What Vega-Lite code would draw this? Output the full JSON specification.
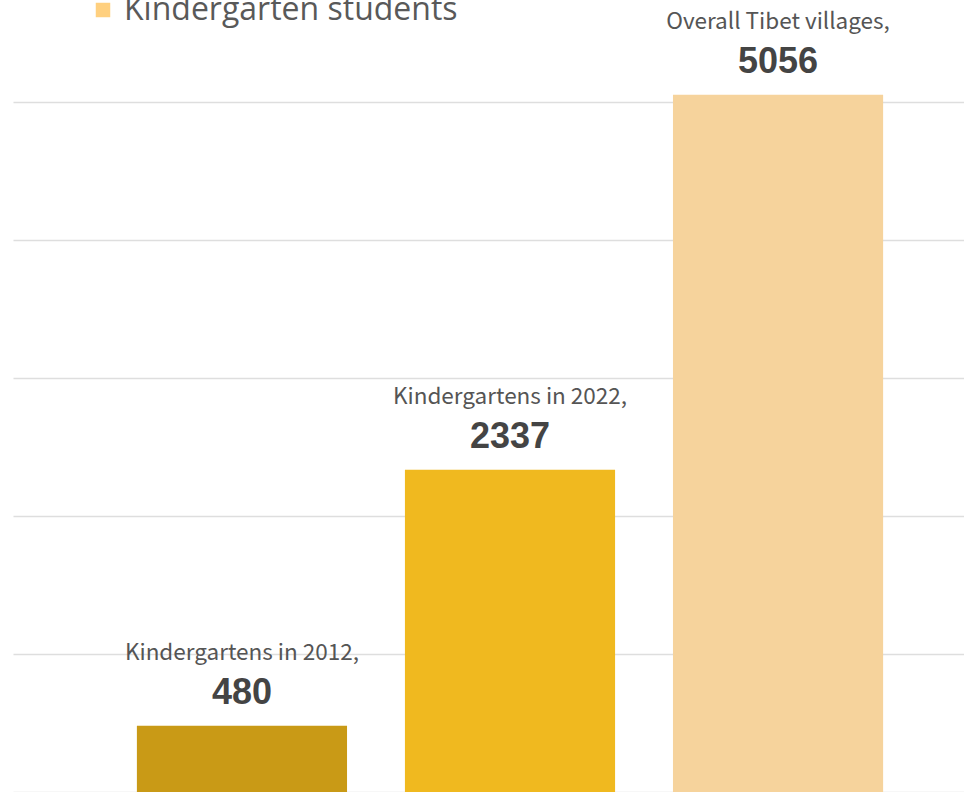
{
  "$schema": "https://vega.github.io/schema/vega-lite/v6.json",
  "width": 951,
  "height": 792,
  "autosize": {"type": "none"},
  "padding": {"left": 13, "top": 0, "right": 0, "bottom": 0},
  "background": "#ffffff",
  "config": {"view": {"stroke": null}},
  "data": {
    "values": [
      {"category": "Kindergartens in 2012,", "value": 480},
      {"category": "Kindergartens in 2022,", "value": 2337},
      {"category": "Overall Tibet villages,", "value": 5056}
    ]
  },
  "layer": [
    {
      "mark": {"type": "bar"},
      "encoding": {
        "x": {"field": "category", "type": "nominal", "sort": null, "axis": null,
              "scale": {"paddingInner": 0.216, "paddingOuter": 0.382, "align": 0.605}},
        "y": {"field": "value", "type": "quantitative",
              "scale": {"domain": [0, 5743], "nice": false},
              "axis": {"grid": true, "values": [0, 1000, 2000, 3000, 4000, 5000], "labels": false, "ticks": false,
                       "domain": false, "title": null, "gridColor": "#dedede", "gridWidth": 1.5}},
        "color": {"field": "category", "type": "nominal", "legend": null,
                  "scale": {"domain": ["Kindergartens in 2012,", "Kindergartens in 2022,", "Overall Tibet villages,"],
                            "range": ["#C99A16", "#F0B91F", "#F6D39C"]}}
      }
    },
    {
      "mark": {"type": "text", "dy": -66, "baseline": "alphabetic", "align": "center",
               "font": "Noto Sans CJK SC", "fontSize": 22.5, "color": "#555555"},
      "encoding": {
        "x": {"field": "category", "type": "nominal", "sort": null},
        "y": {"field": "value", "type": "quantitative"},
        "text": {"field": "category"}
      }
    },
    {
      "mark": {"type": "text", "dy": -22, "baseline": "alphabetic", "align": "center",
               "font": "Liberation Sans", "fontSize": 36, "fontWeight": "bold", "color": "#444444"},
      "encoding": {
        "x": {"field": "category", "type": "nominal", "sort": null},
        "y": {"field": "value", "type": "quantitative"},
        "text": {"field": "value", "type": "quantitative", "format": "d"}
      }
    },
    {
      "data": {"values": [{"series": "Kindergarten students"}]},
      "mark": {"type": "square", "opacity": 0},
      "encoding": {
        "fill": {"field": "series", "type": "nominal",
                 "scale": {"range": ["#FFD07F"]},
                 "legend": {"orient": "none", "legendX": 74, "legendY": -6, "title": null, "padding": 0,
                            "symbolType": "square", "symbolSize": 210, "symbolOpacity": 1, "symbolStrokeWidth": 0,
                            "labelFontSize": 32, "labelFont": "Open Sans", "labelColor": "#595959", "labelOffset": 5,
                            "labelLimit": 500}}
      }
    }
  ]
}
